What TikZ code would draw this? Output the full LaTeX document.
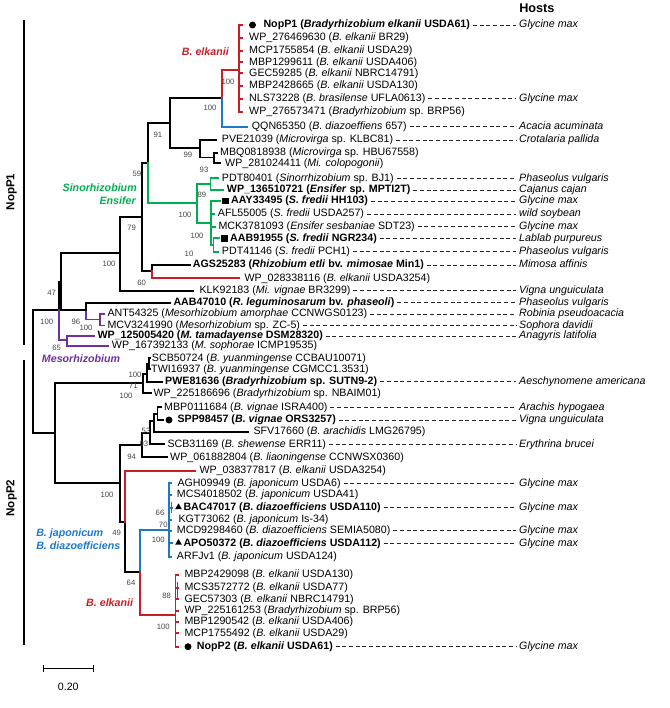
\documentclass[tikz,border=0pt]{standalone}
\usepackage{fontspec}
\setmainfont{Liberation Sans}
\usetikzlibrary{shapes.geometric}
\definecolor{cRed}{RGB}{200,30,40}
\definecolor{cBlue}{RGB}{30,120,200}
\definecolor{cGreen}{RGB}{0,175,80}
\definecolor{cPurple}{RGB}{112,48,160}
\definecolor{cSup}{RGB}{70,70,70}
\newcommand{\tipbr}[5]{\coordinate (#1) at (#4,#3); \draw[brl,#5] (#2) |- (#1);}
\newcommand{\hostat}[3]{\node[hostlbl] (H#1) at (516.3,#2) {#3}; \draw[dashln] (L#1.east) -- (H#1.west);}
\begin{document}
\begin{tikzpicture}[x=0.75pt,y=-0.75pt,
  brl/.style={line width=1.3pt,line cap=rect},
  lbl/.style={anchor=west,inner xsep=2pt,inner ysep=0pt,text height=6pt,text depth=1.8pt,font=\fontsize{8}{9.6}\selectfont},
  hostlbl/.style={lbl,font=\fontsize{8}{9.6}\selectfont\itshape},
  dashln/.style={line width=0.6pt,dash pattern=on 3pt off 2pt,black!85},
  suplbl/.style={inner sep=0pt,font=\fontsize{5.8}{7}\selectfont,text=cSup},
  clab/.style={inner sep=0pt,font=\fontsize{8}{9.6}\selectfont\bfseries\itshape},
  dotm/.style={circle,fill=black,inner sep=0pt,minimum size=5.2pt},
  sqm/.style={rectangle,fill=black,inner sep=0pt,minimum size=4.8pt},
  trimark/.style={regular polygon,regular polygon sides=3,fill=black,inner sep=0pt,minimum size=5.8pt},
  grpbar/.style={line width=2pt},
]
\useasboundingbox (0,0) rectangle (669,708);

% ---------- internal nodes ----------
\coordinate (R) at (33.3,371.7);
\coordinate (P) at (58.7,310);
\coordinate (N47) at (61,281.7);
\coordinate (N100a) at (120,253.3);
\coordinate (N79) at (141.7,216.7);
\coordinate (N59) at (147.7,163.3);
\coordinate (N91) at (170,123.3);
\coordinate (NA) at (221.7,98.3);
\coordinate (NE) at (239.3,70);
\coordinate (N99) at (200,148);
\coordinate (N93) at (214,157.5);
\coordinate (NF) at (196.7,203.3);
\coordinate (N89) at (210.5,184);
\coordinate (NG) at (211,223);
\coordinate (N10) at (213.5,245);
\coordinate (N60) at (151.7,271);
\coordinate (N96) at (86,310);
\coordinate (NMs) at (100,319.5);
\coordinate (N65) at (66.7,340);
\coordinate (Q) at (55,433.3);
\coordinate (NY) at (143.3,383.3);
\coordinate (N71) at (146.7,374);
\coordinate (N100e) at (148.7,364);
\coordinate (N100b) at (120,483.3);
\coordinate (N94) at (141.7,445);
\coordinate (N93b) at (150,433);
\coordinate (N53) at (154,421);
\coordinate (NV) at (157.5,413.7);
\coordinate (N49) at (125,521.7);
\coordinate (N64) at (140,571.7);
\coordinate (NB) at (169,530);
\coordinate (NEl) at (175.5,615);

% ---------- internal edges ----------
\draw[brl] (R) |- (P); \draw[brl] (R) |- (Q);
\draw[brl] (P) |- (N47); \draw[brl,cPurple] (P) |- (N65);
\draw[brl] (N47) |- (N100a); \draw[brl] (N47) |- (N96);
\draw[brl] (N100a) |- (N79);
\draw[brl] (N79) |- (N59); \draw[brl] (N79) |- (N60);
\draw[brl] (N59) |- (N91); \draw[brl,cGreen] (N59) |- (NF);
\draw[brl] (N91) |- (NA); \draw[brl] (N91) |- (N99);
\draw[brl,cRed] (NA) |- (NE);
\draw[brl] (N99) |- (N93);
\draw[brl,cGreen] (NF) |- (N89); \draw[brl,cGreen] (NF) |- (NG);
\draw[brl,cGreen] (NG) |- (N10);
\draw[brl,cPurple] (N96) |- (NMs);
\draw[brl] (Q) |- (NY); \draw[brl] (Q) |- (N100b);
\draw[brl] (NY) |- (N71); \draw[brl] (N71) |- (N100e);
\draw[brl] (N100b) |- (N94); \draw[brl] (N100b) |- (N49);
\draw[brl] (N94) |- (N93b); \draw[brl] (N93b) |- (N53); \draw[brl] (N53) |- (NV);
\draw[brl] (N49) |- (N64);
\draw[brl,cBlue] (N64) |- (NB); \draw[brl,cRed] (N64) |- (NEl);
\coordinate (N66a) at (171.5,503); \coordinate (N66b) at (171.5,512);
\draw[brl,cBlue] (N66a) -- (N66b);
\coordinate (N88a) at (177.5,583); \coordinate (N88b) at (177.5,597);
\draw[brl,cRed] (N88a) -- (N88b);

% ---------- tip branches ----------
\tipbr{T1}{NE}{25}{242}{cRed}
\tipbr{T2}{NE}{37.7}{242}{cRed}
\tipbr{T3}{NE}{50.7}{242}{cRed}
\tipbr{T4}{NE}{62.3}{242}{cRed}
\tipbr{T5}{NE}{73.3}{242}{cRed}
\tipbr{T6}{NE}{85.7}{242}{cRed}
\tipbr{T7}{NE}{98.7}{242}{cRed}
\tipbr{T8}{NE}{111.7}{242}{cRed}
\tipbr{T9}{NA}{126.7}{247}{cBlue}
\tipbr{T10}{N99}{140}{216}{black}
\tipbr{T11}{N93}{152.7}{217}{black}
\tipbr{T12}{N93}{163.3}{220}{black}
\tipbr{T13}{N89}{178.3}{218}{cGreen}
\tipbr{T14}{N89}{190}{223}{cGreen}
\tipbr{T15}{NG}{201}{220}{cGreen}
\tipbr{T16}{NG}{214}{214}{cGreen}
\tipbr{T17}{NG}{226.7}{215}{cGreen}
\tipbr{T18}{N10}{238.3}{219}{cGreen}
\tipbr{T19}{N10}{251.7}{218}{cGreen}
\tipbr{T20}{N60}{265}{190}{black}
\tipbr{T21}{N60}{278.3}{239}{cRed}
\tipbr{T22}{N100a}{290.7}{193}{black}
\tipbr{T23}{N96}{302.7}{170}{black}
\tipbr{T24}{NMs}{314}{104.5}{cPurple}
\tipbr{T25}{NMs}{325.5}{104.5}{cPurple}
\tipbr{T26}{N65}{336}{94}{cPurple}
\tipbr{T27}{N65}{346}{108}{cPurple}
\tipbr{T28}{N100e}{358.3}{150}{black}
\tipbr{T29}{N100e}{369.3}{150}{black}
\tipbr{T30}{N71}{381.7}{162}{black}
\tipbr{T31}{NY}{393.3}{151}{black}
\tipbr{T32}{NV}{407.3}{161}{black}
\tipbr{T33}{NV}{420}{163.5}{black}
\tipbr{T34}{N53}{431.7}{248}{black}
\tipbr{T35}{N93b}{444.3}{164}{black}
\tipbr{T36}{N94}{457.3}{167}{black}
\tipbr{T37}{N49}{470.7}{195}{cRed}
\tipbr{T38}{NB}{483.3}{171}{cBlue}
\tipbr{T39}{NB}{495}{171}{cBlue}
\tipbr{T40}{NB}{507.7}{172}{cBlue}
\tipbr{T41}{NB}{520}{171}{cBlue}
\tipbr{T42}{NB}{530.7}{171}{cBlue}
\tipbr{T43}{NB}{543.3}{172}{cBlue}
\tipbr{T44}{NB}{557}{171}{cBlue}
\tipbr{T45}{NEl}{575}{178}{cRed}
\tipbr{T46}{NEl}{587.7}{178}{cRed}
\tipbr{T47}{NEl}{599.3}{178}{cRed}
\tipbr{T48}{NEl}{611}{178}{cRed}
\tipbr{T49}{NEl}{621.7}{178}{cRed}
\tipbr{T50}{NEl}{633.3}{178}{cRed}
\tipbr{T51}{NEl}{646.7}{178}{cRed}

% ---------- markers ----------
\node[dotm] (M1) at (252.5,25) {};
\node[sqm] (M15) at (225.5,201) {};
\node[sqm] (M18) at (224.5,238.3) {};
\node[dotm] (M33) at (169,420) {};
\node[trimark] (M40) at (178.5,507.2) {};
\node[trimark] (M43) at (178.5,542.8) {};
\node[dotm] (M51) at (188,646.7) {};

% ---------- tip labels ----------
\node[lbl] (L1) at (260.6,25) {\textbf{NopP1 (\textit{Bradyrhizobium elkanii} USDA61)}};
\node[lbl] (L2) at (246.3,37.7) {WP\_276469630 (\textit{B. elkanii} BR29)};
\node[lbl] (L3) at (246.3,50.7) {MCP1755854 (\textit{B. elkanii} USDA29)};
\node[lbl] (L4) at (246.3,62.3) {MBP1299611 (\textit{B. elkanii} USDA406)};
\node[lbl] (L5) at (246.3,73.3) {GEC59285 (\textit{B. elkanii} NBRC14791)};
\node[lbl] (L6) at (246.3,85.7) {MBP2428665 (\textit{B. elkanii} USDA130)};
\node[lbl] (L7) at (246.3,98.7) {NLS73228 (\textit{B. brasilense} UFLA0613)};
\node[lbl] (L8) at (246.3,111.7) {WP\_276573471 (\textit{Bradyrhizobium} sp. BRP56)};
\node[lbl] (L9) at (249,126.7) {QQN65350 (\textit{B. diazoeffiens} 657)};
\node[lbl] (L10) at (219,140) {PVE21039 (\textit{Microvirga} sp. KLBC81)};
\node[lbl] (L11) at (217.3,152.7) {MBQ0818938 (\textit{Microvirga} sp. HBU67558)};
\node[lbl] (L12) at (222.3,163.3) {WP\_281024411 (\textit{Mi. colopogonii})};
\node[lbl] (L13) at (219,178.3) {PDT80401 (\textit{Sinorrhizobium} sp. BJ1)};
\node[lbl] (L14) at (224,190) {\textbf{WP\_136510721 (\textit{Ensifer} sp. MPTI2T)}};
\node[lbl] (L15) at (228.3,201) {\textbf{AAY33495 (\textit{S. fredii} HH103)}};
\node[lbl] (L16) at (215,214) {AFL55005 (\textit{S. fredii} USDA257)};
\node[lbl] (L17) at (215.6,226.7) {MCK3781093 (\textit{Ensifer sesbaniae} SDT23)};
\node[lbl] (L18) at (227.3,238.3) {\textbf{AAB91955 (\textit{S. fredii} NGR234)}};
\node[lbl] (L19) at (219,251.7) {PDT41146 (\textit{S. fredii} PCH1)};
\node[lbl] (L20) at (190,265) {\textbf{AGS25283 (\textit{Rhizobium etli} bv. \textit{mimosae} Min1)}};
\node[lbl] (L21) at (241.6,278.3) {WP\_028338116 (\textit{B. elkanii} USDA3254)};
\node[lbl] (L22) at (196.6,290.7) {KLK92183 (\textit{Mi. vignae} BR3299)};
\node[lbl] (L23) at (170.6,302.7) {\textbf{AAB47010 (\textit{R. leguminosarum} bv. \textit{phaseoli})}};
\node[lbl] (L24) at (104.6,314) {ANT54325 (\textit{Mesorhizobium amorphae} CCNWGS0123)};
\node[lbl] (L25) at (104.6,325.5) {MCV3241990 (\textit{Mesorhizobium} sp. ZC-5)};
\node[lbl] (L26) at (94.6,336) {\textbf{WP\_125005420 (\textit{M. tamadayense} DSM28320)}};
\node[lbl] (L27) at (109,346) {WP\_167392133 (\textit{M. sophorae} ICMP19535)};
\node[lbl] (L28) at (149,358.3) {SCB50724 (\textit{B. yuanmingense} CCBAU10071)};
\node[lbl] (L29) at (148.3,369.3) {TWI16937 (\textit{B. yuanmingense} CGMCC1.3531)};
\node[lbl] (L30) at (162.3,381.7) {\textbf{PWE81636 (\textit{Bradyrhizobium} sp. SUTN9-2)}};
\node[lbl] (L31) at (150.6,393.3) {WP\_225186696 (\textit{Bradyrhizobium} sp. NBAIM01)};
\node[lbl] (L32) at (161.3,407.3) {MBP0111684 (\textit{B. vignae} ISRA400)};
\node[lbl] (L33) at (174.6,420) {\textbf{SPP98457 (\textit{B. vignae} ORS3257)}};
\node[lbl] (L34) at (250.6,431.7) {SFV17660 (\textit{B. arachidis} LMG26795)};
\node[lbl] (L35) at (164.6,444.3) {SCB31169 (\textit{B. shewense} ERR11)};
\node[lbl] (L36) at (167.3,457.3) {WP\_061882804 (\textit{B. liaoningense} CCNWSX0360)};
\node[lbl] (L37) at (196.6,470.7) {WP\_038377817 (\textit{B. elkanii} USDA3254)};
\node[lbl] (L38) at (174.6,483.3) {AGH09949 (\textit{B. japonicum} USDA6)};
\node[lbl] (L39) at (174,495) {MCS4018502 (\textit{B. japonicum} USDA41)};
\node[lbl] (L40) at (180.6,507.7) {\textbf{BAC47017 (\textit{B. diazoefficiens} USDA110)}};
\node[lbl] (L41) at (175.6,520) {KGT73062 (\textit{B. japonicum} Is-34)};
\node[lbl] (L42) at (174,530.7) {MCD9298460 (\textit{B. diazoefficiens} SEMIA5080)};
\node[lbl] (L43) at (180.6,543.3) {\textbf{APO50372 (\textit{B. diazoefficiens} USDA112)}};
\node[lbl] (L44) at (174,557) {ARFJv1 (\textit{B. japonicum} USDA124)};
\node[lbl] (L45) at (181.6,575) {MBP2429098 (\textit{B. elkanii} USDA130)};
\node[lbl] (L46) at (181.6,587.7) {MCS3572772 (\textit{B. elkanii} USDA77)};
\node[lbl] (L47) at (181.6,599.3) {GEC57303 (\textit{B. elkanii} NBRC14791)};
\node[lbl] (L48) at (181.6,611) {WP\_225161253 (\textit{Bradyrhizobium} sp. BRP56)};
\node[lbl] (L49) at (181.6,621.7) {MBP1290542 (\textit{B. elkanii} USDA406)};
\node[lbl] (L50) at (181.6,633.3) {MCP1755492 (\textit{B. elkanii} USDA29)};
\node[lbl] (L51) at (194,646.7) {\textbf{NopP2 (\textit{B. elkanii} USDA61)}};

% ---------- hosts ----------
\node[anchor=west,inner sep=0pt,font=\fontsize{9.5}{11}\selectfont\bfseries] (Hosts) at (519,8.3) {Hosts};
\hostat{1}{25}{Glycine max}
\hostat{7}{98.7}{Glycine max}
\hostat{9}{126.7}{Acacia acuminata}
\hostat{10}{140}{Crotalaria pallida}
\hostat{13}{178.3}{Phaseolus vulgaris}
\hostat{14}{190}{Cajanus cajan}
\hostat{15}{201}{Glycine max}
\hostat{16}{214}{wild soybean}
\hostat{17}{226.7}{Glycine max}
\hostat{18}{238.3}{Lablab purpureus}
\hostat{19}{251.7}{Phaseolus vulgaris}
\hostat{20}{265}{Mimosa affinis}
\hostat{22}{290.7}{Vigna unguiculata}
\hostat{23}{302.7}{Phaseolus vulgaris}
\hostat{24}{314}{Robinia pseudoacacia}
\hostat{25}{325.5}{Sophora davidii}
\hostat{26}{336}{Anagyris latifolia}
\hostat{30}{381.7}{Aeschynomene americana}
\hostat{32}{407.3}{Arachis hypogaea}
\hostat{33}{420}{Vigna unguiculata}
\hostat{35}{444.3}{Erythrina brucei}
\hostat{38}{483.3}{Glycine max}
\hostat{40}{507.7}{Glycine max}
\hostat{42}{530.7}{Glycine max}
\hostat{43}{543.3}{Glycine max}
\hostat{51}{646.7}{Glycine max}

% ---------- support values ----------
\node[suplbl] (s1) at (228,81.7) {100};
\node[suplbl] (s2) at (210,108) {100};
\node[suplbl] (s3) at (158,135) {91};
\node[suplbl] (s4) at (188,155) {99};
\node[suplbl] (s5) at (204,170) {93};
\node[suplbl] (s6) at (137,174) {59};
\node[suplbl] (s7) at (202,195) {89};
\node[suplbl] (s8) at (185,215) {100};
\node[suplbl] (s9) at (131.7,228) {79};
\node[suplbl] (s10) at (197,236) {100};
\node[suplbl] (s11) at (189,254) {10};
\node[suplbl] (s12) at (109,264) {100};
\node[suplbl] (s13) at (141.7,283.3) {60};
\node[suplbl] (s14) at (51.7,293) {47};
\node[suplbl] (s15) at (46.7,322) {100};
\node[suplbl] (s16) at (76,322) {96};
\node[suplbl] (s17) at (86,328) {100};
\node[suplbl] (s18) at (56.7,348) {65};
\node[suplbl] (s19) at (135,375) {100};
\node[suplbl] (s20) at (133.3,386) {71};
\node[suplbl] (s21) at (126,395.7) {100};
\node[suplbl] (s22) at (146,431) {53};
\node[suplbl] (s23) at (144,444) {93};
\node[suplbl] (s24) at (131.7,457.3) {94};
\node[suplbl] (s25) at (107,495) {100};
\node[suplbl] (s26) at (116.7,532.7) {49};
\node[suplbl] (s27) at (160,512.7) {66};
\node[suplbl] (s28) at (163.3,525) {70};
\node[suplbl] (s29) at (158.3,540) {100};
\node[suplbl] (s30) at (131,583.3) {64};
\node[suplbl] (s31) at (166.7,596) {88};
\node[suplbl] (s32) at (163.3,626.7) {100};

% ---------- clade labels ----------
\node[clab,text=cRed,anchor=east] (C1) at (229,51.7) {B. elkanii};
\node[clab,text=cGreen,anchor=east] (C2) at (137,187.3) {Sinorhizobium};
\node[clab,text=cGreen,anchor=east] (C3) at (136,201) {Ensifer};
\node[clab,text=cPurple,anchor=west] (C4) at (41.7,358.3) {Mesorhizobium};
\node[clab,text=cBlue,anchor=west] (C5) at (36,533.3) {B. japonicum};
\node[clab,text=cBlue,anchor=west] (C6) at (36,545.7) {B. diazoefficiens};
\node[clab,text=cRed,anchor=east] (C7) at (133.3,602.3) {B. elkanii};

% ---------- group bars ----------
\coordinate (B1t) at (24,20); \coordinate (B1b) at (24,345);
\coordinate (B2t) at (24,360); \coordinate (B2b) at (24,645);
\draw[grpbar] (B1t) -- (B1b);
\draw[grpbar] (B2t) -- (B2b);
\node[rotate=90,inner sep=0pt,font=\fontsize{8.7}{10}\selectfont\bfseries] (G1) at (11.5,192) {NopP1};
\node[rotate=90,inner sep=0pt,font=\fontsize{8.7}{10}\selectfont\bfseries] (G2) at (11.5,498) {NopP2};

% ---------- scale bar ----------
\coordinate (S1) at (43.3,668.3); \coordinate (S2) at (93.3,668.3);
\draw[line width=1.2pt] (S1) -- (S2);
\draw[line width=1.2pt] ([yshift=-2.5pt]S1) -- ([yshift=2.5pt]S1);
\draw[line width=1.2pt] ([yshift=-2.5pt]S2) -- ([yshift=2.5pt]S2);
\node[inner sep=0pt,font=\fontsize{8}{9.6}\selectfont] (S3) at (68.3,686.7) {0.20};
\end{tikzpicture}
\end{document}
